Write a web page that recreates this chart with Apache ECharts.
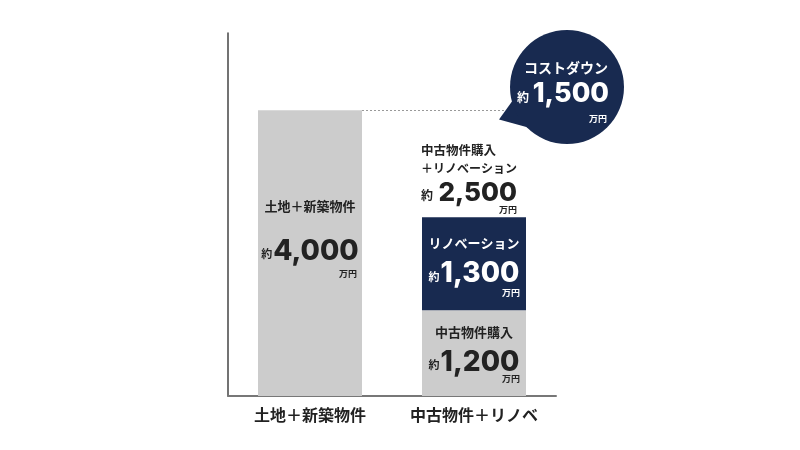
<!DOCTYPE html>
<html><head><meta charset="utf-8">
<script src="https://cdn.jsdelivr.net/npm/echarts@6/dist/echarts.min.js"></script>
<style>html,body{margin:0;padding:0;background:#fff}#c{width:800px;height:450px}</style>
</head><body><div id="c"></div>
<script>
const categories = ['土地＋新築物件', '中古物件＋リノベ'];
const baseValues = [4000, 1200];          // 新築一式 / 中古物件購入
const renovationValues = [null, 1300];    // リノベーション
const baseTitles = ['土地＋新築物件', '中古物件購入'];
const renovationTitle = 'リノベーション';
const totalTitle = ['中古物件購入', '＋リノベーション'];
const savingTitle = 'コストダウン';

const NAVY = '#182a50', GRAY = '#cccccc', DARK = '#222222';
const JP = '"Noto Sans CJK JP", sans-serif';
const NUM = 'Inter, Lato, "Noto Sans CJK JP", sans-serif';
const fmt = v => v.toLocaleString('en-US');

const total = baseValues[1] + renovationValues[1];
const saving = baseValues[0] - total;

function richSet(color, numSize, l1, l2, l3) {
  return {
    t: {fontFamily: JP, fontWeight: 'bold', fontSize: 13, color: color, lineHeight: l1},
    y: {fontFamily: JP, fontWeight: 'bold', fontSize: 11, color: color, lineHeight: l2, padding: [6, 1, 0, 0]},
    n: {fontFamily: NUM, fontWeight: 800, fontSize: numSize, color: color, lineHeight: l2},
    u: {fontFamily: JP, fontWeight: 'bold', fontSize: 9, color: color, lineHeight: l3, align: 'right'}
  };
}

const chart = echarts.init(document.getElementById('c'));
const option = {
  animation: false,
  grid: {left: 228, right: 244, top: 33, bottom: 54},
  xAxis: {
    type: 'category', data: categories,
    axisLine: {lineStyle: {color: '#777', width: 2}},
    axisTick: {show: false},
    axisLabel: {interval: 0, fontFamily: JP, fontWeight: 'bold', fontSize: 16, color: DARK, margin: 11}
  },
  yAxis: {
    type: 'value', min: 0, max: 5080,
    axisLine: {show: true, lineStyle: {color: '#444', width: 1.5}},
    axisTick: {show: false}, axisLabel: {show: false}, splitLine: {show: false}
  },
  series: [
    {
      type: 'bar', stack: 'cost', barWidth: 104, itemStyle: {color: GRAY},
      data: baseValues.map((v, i) => ({
        value: v,
        label: i === 0 ? {
          show: true, position: ['50%', 66], align: 'center', verticalAlign: 'top', width: 94,
          formatter: '{t|' + baseTitles[i] + '}\n{y|約}{n|' + fmt(v) + '}\n{u|万円}',
          rich: richSet(DARK, 28, 60, 30, 14)
        } : {
          show: true, position: ['50%', 4], align: 'center', verticalAlign: 'top', width: 92,
          formatter: '{t|' + baseTitles[i] + '}\n{y|約}{n|' + fmt(v) + '}\n{u|万円}',
          rich: richSet(DARK, 28, 36, 24, 8)
        }
      }))
    },
    {
      type: 'bar', stack: 'cost', barWidth: 104, itemStyle: {color: NAVY},
      data: renovationValues.map((v, i) => v == null ? '-' : ({
        value: v,
        label: {
          show: true, position: ['50%', 9], align: 'center', verticalAlign: 'top', width: 92,
          formatter: '{t|' + renovationTitle + '}\n{y|約}{n|' + fmt(v) + '}\n{u|万円}',
          rich: richSet('#ffffff', 28, 34, 26, 12)
        }
      }))
    },
    {
      // total label on top of the stack
      type: 'bar', stack: 'cost', barWidth: 104, itemStyle: {color: 'transparent'},
      silent: true,
      data: renovationValues.map((v, i) => v == null ? '-' : ({
        value: 0,
        label: {
          show: true, position: [-1, -73], align: 'left', verticalAlign: 'top', width: 96,
          formatter: '{t|' + totalTitle[0] + '}\n{t2|' + totalTitle[1] + '}\n{y|約}{n|' + fmt(total) + '}\n{u|万円}',
          rich: {
            t: {fontFamily: JP, fontWeight: 'bold', fontSize: 12.5, color: DARK, lineHeight: 12},
            t2: {fontFamily: JP, fontWeight: 'bold', fontSize: 12, color: DARK, lineHeight: 24},
            y: {fontFamily: JP, fontWeight: 'bold', fontSize: 12, color: DARK, lineHeight: 26, padding: [4, 0, 0, 0]},
            n: {fontFamily: NUM, fontWeight: 800, fontSize: 26, color: DARK, lineHeight: 26, align: 'right'},
            u: {fontFamily: JP, fontWeight: 'bold', fontSize: 9, color: DARK, lineHeight: 6, align: 'right'}
          }
        }
      }))
    }
  ]
};
chart.setOption(option);

// annotations derived from the scales
const topLeft = chart.convertToPixel({xAxisIndex: 0, yAxisIndex: 0}, [0, baseValues[0]]);
const lineY = Math.round(topLeft[1]) + 0.5;
const cx = 567, cy = 87, r = 57;
chart.setOption({
  graphic: [
    {type: 'line', shape: {x1: topLeft[0] + 52, y1: lineY, x2: 510, y2: lineY},
     style: {stroke: '#999', lineWidth: 1, lineDash: [2, 2]}, z: 10},
    {type: 'polygon', shape: {points: [[499, lineY + 9], [513, 100], [530, 128]]}, style: {fill: NAVY}, z: 11},
    {type: 'circle', shape: {cx: cx, cy: cy, r: r}, style: {fill: NAVY}, z: 11},
    {type: 'text', x: cx - 1, y: 68, z: 12,
     style: {text: savingTitle, fill: '#fff', font: 'bold 14px ' + JP, align: 'center', verticalAlign: 'middle'}},
    {type: 'text', x: 517, y: 97, z: 12,
     style: {text: '約', fill: '#fff', font: 'bold 12px ' + JP, align: 'left', verticalAlign: 'middle'}},
    {type: 'text', x: 609, y: 94, z: 12,
     style: {text: fmt(saving), fill: '#fff', font: '800 27px ' + NUM, align: 'right', verticalAlign: 'middle'}},
    {type: 'text', x: 607, y: 119, z: 12,
     style: {text: '万円', fill: '#fff', font: 'bold 9px ' + JP, align: 'right', verticalAlign: 'middle'}}
  ]
});
</script></body></html>
